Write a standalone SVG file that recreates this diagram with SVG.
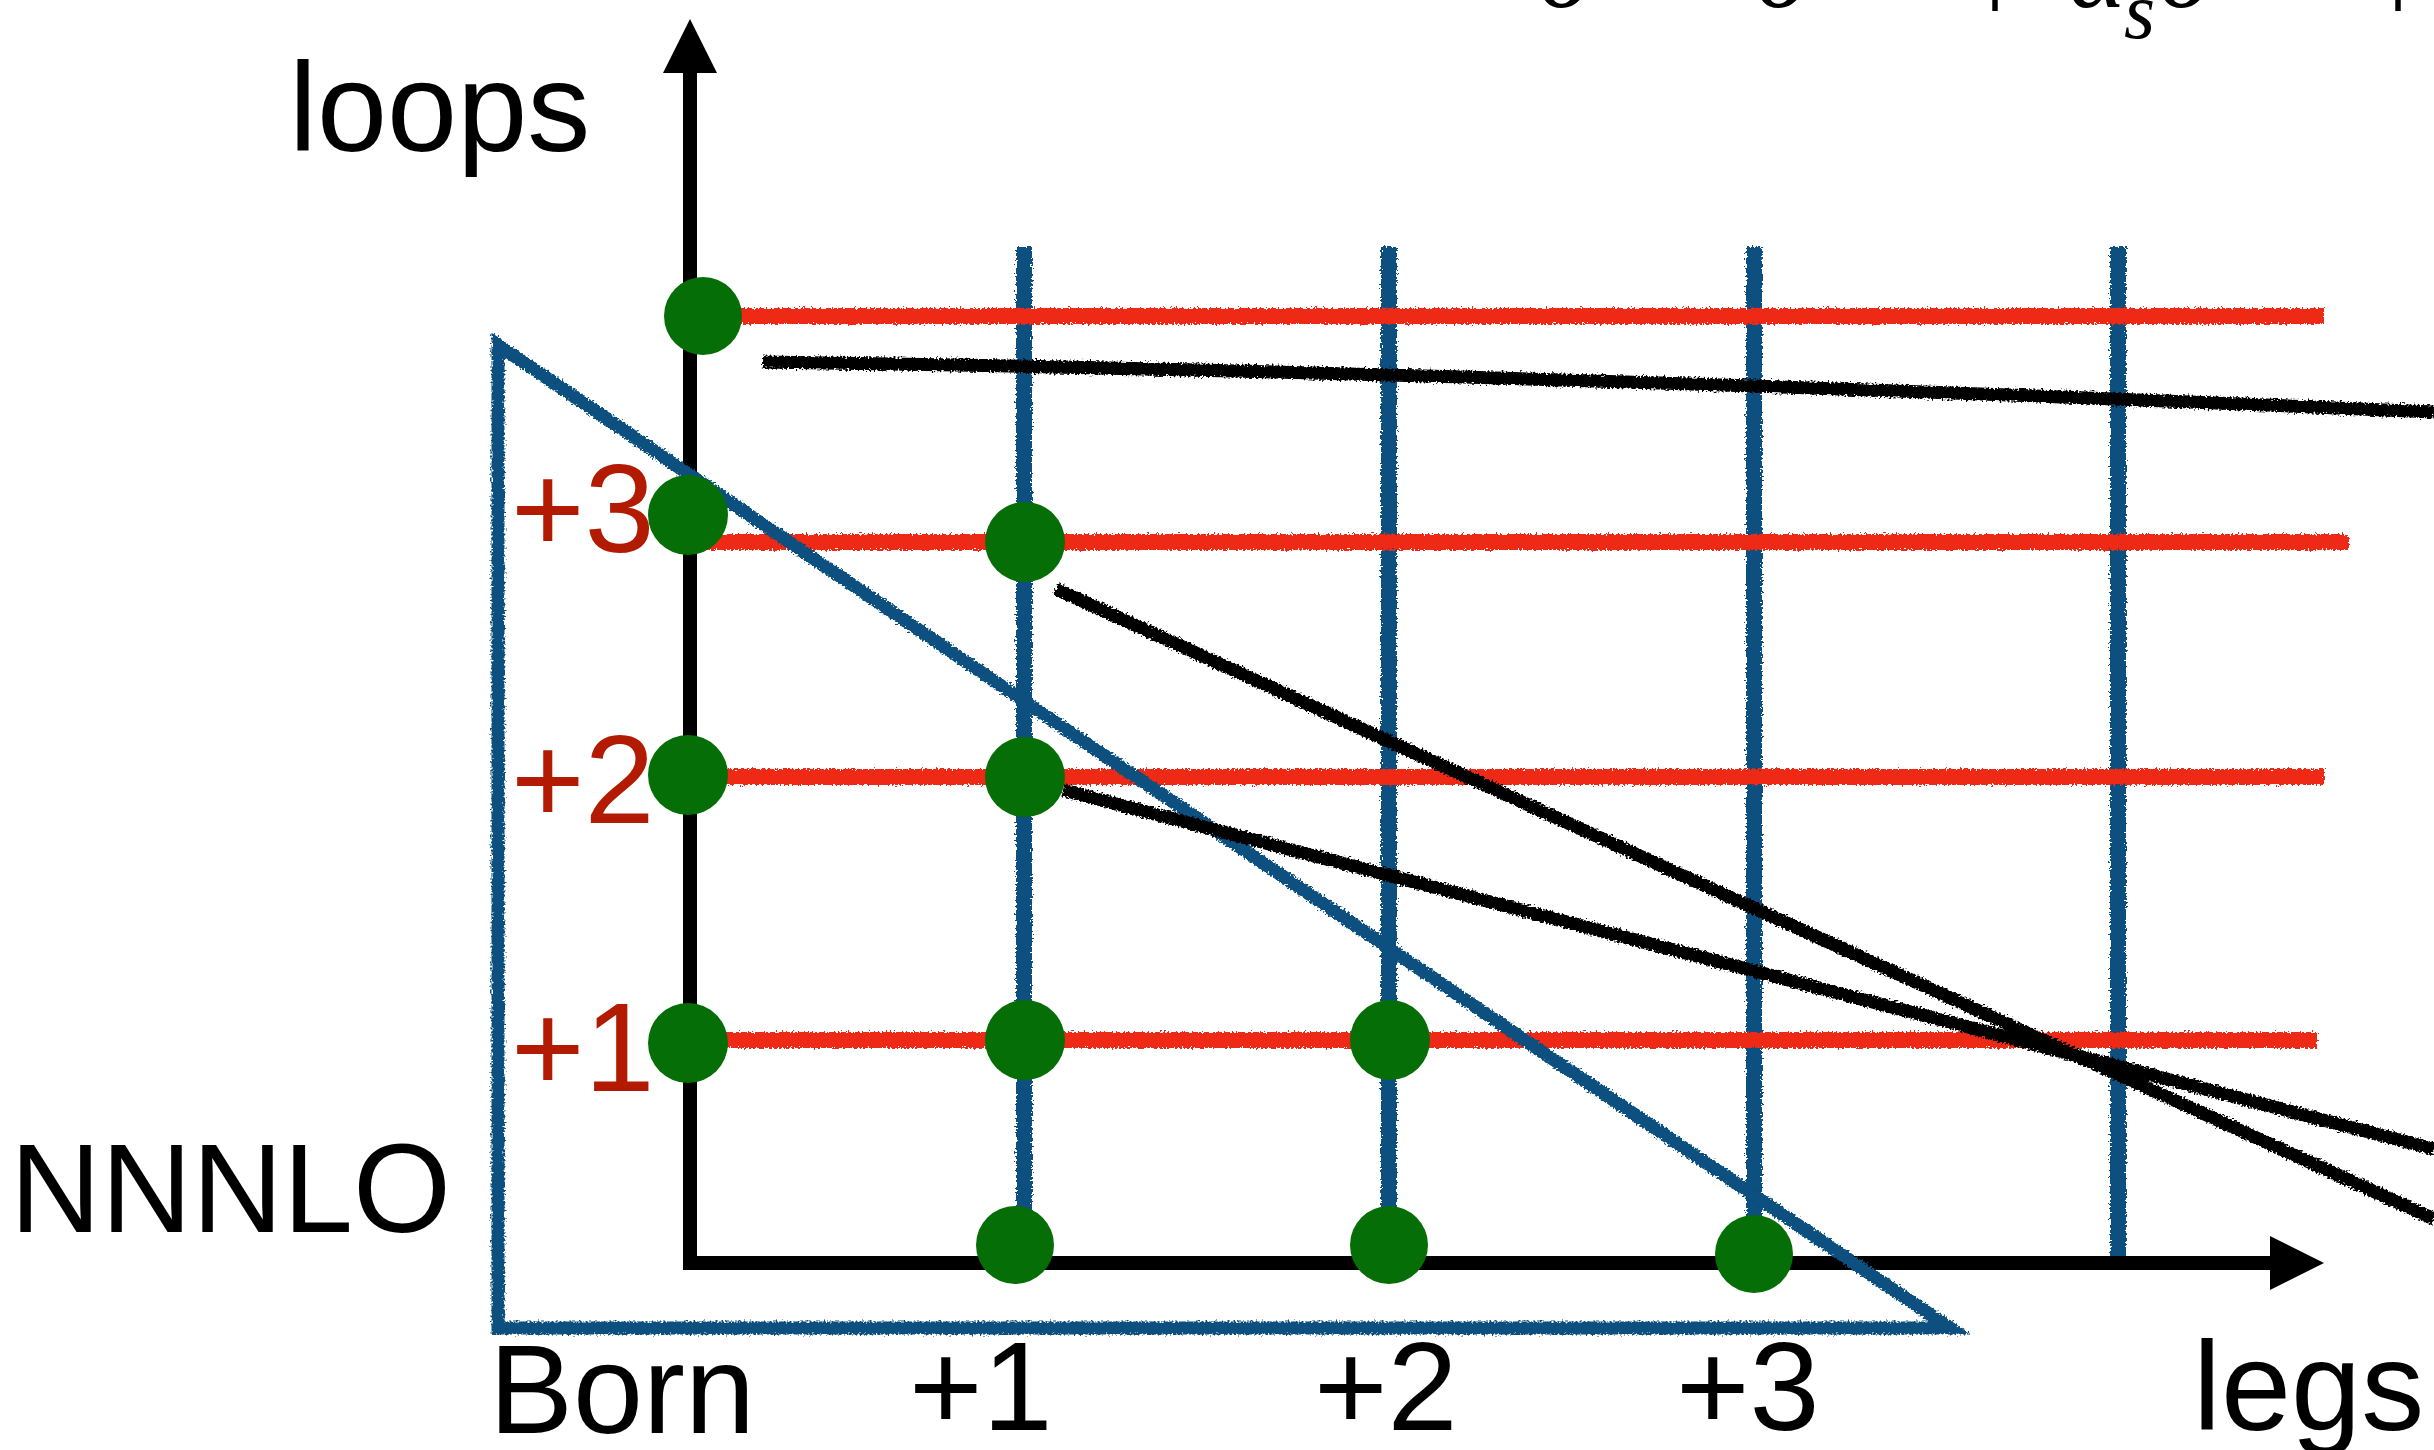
<svg xmlns="http://www.w3.org/2000/svg" width="2434" height="1450" viewBox="0 0 2434 1450">
<defs>
<filter id="rough" filterUnits="userSpaceOnUse" x="0" y="0" width="2434" height="1450">
<feTurbulence type="fractalNoise" baseFrequency="0.5" numOctaves="2" seed="4" result="n"/>
<feDisplacementMap in="SourceGraphic" in2="n" scale="7" xChannelSelector="R" yChannelSelector="G"/>
</filter>
<marker id="arr" viewBox="0 0 54 54" refX="0" refY="27" markerWidth="54" markerHeight="54" markerUnits="userSpaceOnUse" orient="auto">
<path d="M0 0 L54 27 L0 54 Z" fill="#000"/>
</marker>
</defs>
<style>
.lbl{font-family:"Liberation Sans",Arial,Helvetica,sans-serif;font-size:126px;fill:#000}
.red{fill:#b31a02}
.math{font-family:"Liberation Serif","Times New Roman",serif;font-style:italic;fill:#000}
.vline{stroke:#07507f;stroke-width:16;fill:none;stroke-linecap:butt}
.hline{stroke:#ee2a12;stroke-width:16;fill:none}
.blk{stroke:#000;stroke-width:13;fill:none}
.axis{stroke:#000;stroke-width:14;fill:none}
.dot{fill:#056e06}
</style>
<rect x="0" y="0" width="2434" height="1450" fill="#fff"/>

<g id="formula">
<text class="math" x="1538" y="7" font-size="110">σ</text>
<text class="math" x="1755" y="7" font-size="110">σ</text>
<text x="1984" y="-12" font-size="110" font-family="Liberation Serif,serif">|</text>
<text class="math" x="2068" y="7" font-size="110">α</text>
<text class="math" x="2124" y="38" font-size="80">s</text>
<text class="math" x="2158" y="7" font-size="110">σ</text>
<text x="2387" y="-12" font-size="110" font-family="Liberation Serif,serif">|</text>
</g>

<g id="connectors">
<g id="grid-legs" filter="url(#rough)">
<line class="vline" x1="1024" y1="247" x2="1024" y2="1243"/>
<line class="vline" x1="1389" y1="247" x2="1389" y2="1243"/>
<line class="vline" x1="1754" y1="247" x2="1754" y2="1255"/>
<line class="vline" x1="2118" y1="247" x2="2118" y2="1262"/>
</g>
<g id="grid-loops" filter="url(#rough)">
<line class="hline" x1="703" y1="316" x2="2324" y2="316"/>
<line class="hline" x1="687" y1="542" x2="2349" y2="542"/>
<line class="hline" x1="687" y1="777" x2="2324" y2="777"/>
<line class="hline" x1="687" y1="1040" x2="2317" y2="1040"/>
</g>
<g id="axes">
<line class="axis" x1="690" y1="1269" x2="690" y2="73" marker-end="url(#arr)"/>
<line class="axis" x1="683" y1="1263" x2="2270" y2="1263" marker-end="url(#arr)"/>
</g>
<g id="nnnlo-triangle" filter="url(#rough)">
<polygon points="498,345 1950,1328 498,1328" fill="none" stroke="#07507f" stroke-width="13" stroke-linejoin="miter"/>
</g>
<g id="cut-lines" filter="url(#rough)">
<path class="blk" d="M763 362 Q1500 372 2434 412"/>
<line class="blk" x1="1056" y1="589" x2="2434" y2="1219"/>
<line class="blk" x1="1063" y1="790" x2="2434" y2="1149"/>
</g>
</g>

<g id="dots">
<g id="dot-0-4"><ellipse class="dot" cx="703" cy="316" rx="39" ry="39"/></g>
<g id="dot-0-3"><circle class="dot" cx="688" cy="515" r="40"/></g>
<g id="dot-1-3"><circle class="dot" cx="1025" cy="542" r="40"/></g>
<g id="dot-0-2"><circle class="dot" cx="688" cy="775" r="40"/></g>
<g id="dot-1-2"><circle class="dot" cx="1025" cy="777" r="40"/></g>
<g id="dot-0-1"><circle class="dot" cx="688" cy="1043" r="40"/></g>
<g id="dot-1-1"><circle class="dot" cx="1025" cy="1040" r="40"/></g>
<g id="dot-2-1"><circle class="dot" cx="1390" cy="1040" r="40"/></g>
<g id="dot-1-0"><ellipse class="dot" cx="1015" cy="1245" rx="39" ry="39"/></g>
<g id="dot-2-0"><ellipse class="dot" cx="1389" cy="1245" rx="39" ry="39"/></g>
<g id="dot-3-0"><ellipse class="dot" cx="1754" cy="1254" rx="39" ry="39"/></g>
</g>

<g id="labels">
<text class="lbl" x="289" y="151">loops</text>
<text class="lbl red" x="511" y="552">+3</text>
<text class="lbl red" x="511" y="823">+2</text>
<text class="lbl red" x="511" y="1091">+1</text>
<text class="lbl" x="10" y="1232">NNNLO</text>
<text class="lbl" x="489" y="1433">Born</text>
<text class="lbl" x="909" y="1430">+1</text>
<text class="lbl" x="1314" y="1430">+2</text>
<text class="lbl" x="1676" y="1430">+3</text>
<text class="lbl" x="2193" y="1430">legs</text>
</g>
</svg>
